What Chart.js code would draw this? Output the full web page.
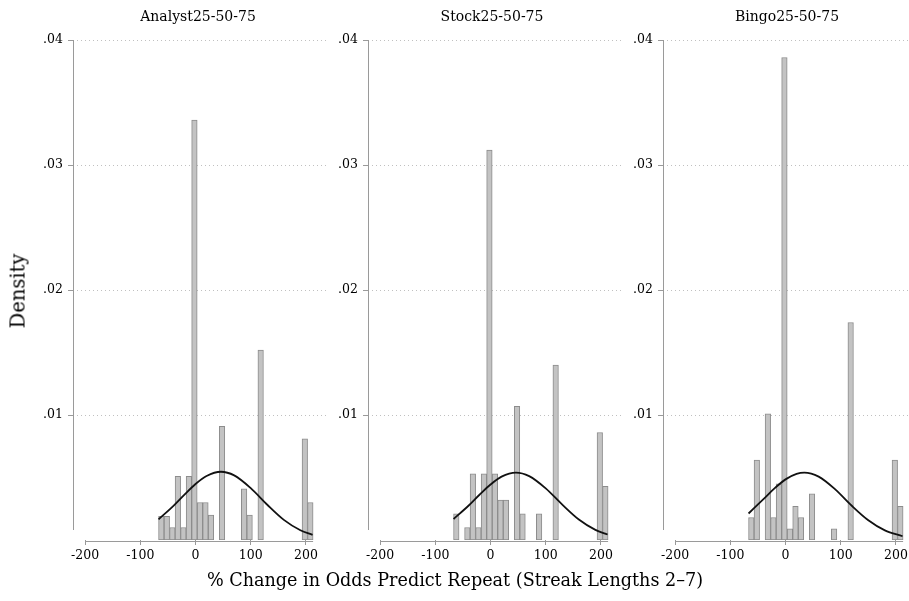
<!DOCTYPE html>
<html>
<head>
    <meta charset="UTF-8">
    <title>Odds Predict Repeat</title>
    <script src="https://cdn.jsdelivr.net/npm/chart.js@4.4.1/dist/chart.umd.min.js"></script>
    <style>
        body {
            margin: 0;
            width: 909px;
            height: 601px;
            overflow: hidden;
            background: white;
            font-family: "DejaVu Serif", serif;
            color: #000;
            position: relative;
        }
        canvas {
            position: absolute;
            top: 0;
        }
        .label {
            position: absolute;
            white-space: nowrap;
            transform: translate(-50%, -50%);
        }
        .panel-title {
            font-size: 14px;
            top: 16px;
        }
        .y-title {
            font-size: 19.5px;
            left: 18px;
            top: 291px;
            transform: translate(-50%, -50%) rotate(-90deg);
        }
        .x-title {
            font-size: 17.6px;
            left: 455px;
            top: 580px;
        }
    </style>
</head>
<body>
<canvas id="c1" width="330" height="575" style="left:0px"></canvas>
<canvas id="c2" width="330" height="575" style="left:295px"></canvas>
<canvas id="c3" width="330" height="575" style="left:590px"></canvas>

<div class="label panel-title" style="left:198px">Analyst25-50-75</div>
<div class="label panel-title" style="left:492px">Stock25-50-75</div>
<div class="label panel-title" style="left:787px">Bingo25-50-75</div>
<div class="label y-title">Density</div>
<div class="label x-title">% Change in Odds Predict Repeat (Streak Lengths 2–7)</div>

<script>
    // histogram bins (width 10), centres
    const binCenters = [-62, -52, -42, -32, -22, -12, -2, 8, 18, 28, 38, 48, 58, 68,
        78, 88, 98, 108, 118, 128, 138, 148, 158, 168, 178, 188, 198, 208];

    const analystDensity = [0.0019, 0.0019, 0.001, 0.0051, 0.001, 0.0051, 0.0336, 0.003, 0.003, 0.002,
        null, 0.0091, null, null, null, 0.0041, 0.002, null, 0.0152,
        null, null, null, null, null, null, null, 0.0081, 0.003];
    const stockDensity = [0.0021, null, 0.001, 0.0053, 0.001, 0.0053, 0.0312, 0.0053, 0.0032, 0.0032,
        null, 0.0107, 0.0021, null, null, 0.0021, null, null, 0.014,
        null, null, null, null, null, null, null, 0.0086, 0.0043];
    const bingoDensity = [0.0018, 0.0064, null, 0.0101, 0.0018, 0.0045, 0.0386, 0.0009, 0.0027, 0.0018,
        null, 0.0037, null, null, null, 0.0009, null, null, 0.0174,
        null, null, null, null, null, null, null, 0.0064, 0.0027];

    // normal curve overlays
    const analystCurveX = [-67, -40, -20, 0, 20, 46, 70, 100, 130, 160, 190, 212];
    const analystCurveY = [0.00165, 0.00273, 0.00363, 0.00448, 0.00512, 0.00546, 0.00517, 0.00415, 0.00282, 0.00161, 0.00078, 0.00041];
    const stockCurveX = [-67, -40, -20, 0, 20, 46, 70, 100, 130, 160, 190, 212];
    const stockCurveY = [0.00168, 0.00274, 0.00362, 0.00444, 0.00507, 0.00539, 0.00511, 0.00413, 0.00283, 0.00164, 0.00081, 0.00044];
    const bingoCurveX = [-67, -40, -20, 0, 20, 34, 60, 90, 120, 150, 180, 212];
    const bingoCurveY = [0.00212, 0.00327, 0.00413, 0.00485, 0.00529, 0.00539, 0.00507, 0.00405, 0.00274, 0.00158, 0.00077, 0.0003];

    const xTicks = [-200, -100, 0, 100, 200];
    const yTicks = [0.01, 0.02, 0.03, 0.04];

    const axisGray = '#9a9a9a';
    const tickFont = { family: 'DejaVu Serif', size: 12.5 };

    // Stata style axis lines, detached at the corner
    const stataAxes = {
        id: 'stataAxes',
        beforeDatasetsDraw(chart) {
            const { ctx, chartArea, scales: { x, y } } = chart;
            ctx.save();
            ctx.strokeStyle = axisGray;
            ctx.lineWidth = 1;
            ctx.beginPath();
            ctx.moveTo(Math.round(chartArea.left) + 0.5, y.getPixelForValue(yTicks[yTicks.length - 1]));
            ctx.lineTo(Math.round(chartArea.left) + 0.5, chartArea.bottom - 10);
            ctx.moveTo(x.getPixelForValue(xTicks[0]), Math.round(chartArea.bottom) + 1.5);
            ctx.lineTo(x.getPixelForValue(binCenters[binCenters.length - 1] + 5), Math.round(chartArea.bottom) + 1.5);
            ctx.stroke();
            ctx.restore();
        }
    };

    function makePanel(id, density, curveX, curveY) {
        const bars = binCenters.map((c, i) => ({ x: c, y: density[i] }));
        const curve = curveX.map((c, i) => ({ x: c, y: curveY[i] }));
        return new Chart(document.getElementById(id), {
            type: 'bar',
            data: {
                datasets: [{
                    type: 'line',
                    data: curve,
                    borderColor: '#111',
                    borderWidth: 1.8,
                    pointRadius: 0,
                    cubicInterpolationMode: 'monotone',
                    order: 0
                }, {
                    type: 'bar',
                    data: bars,
                    backgroundColor: '#c3c3c3',
                    borderColor: '#8c8c8c',
                    borderWidth: 1,
                    borderSkipped: false,
                    barPercentage: 1,
                    categoryPercentage: 1,
                    order: 1
                }]
            },
            options: {
                responsive: false,
                animation: false,
                layout: { padding: { top: 40, right: 2, left: 0, bottom: 0 } },
                plugins: {
                    legend: { display: false },
                    tooltip: { enabled: false }
                },
                scales: {
                    x: {
                        type: 'linear',
                        offset: false,
                        min: -222,
                        max: 240,
                        afterBuildTicks: s => { s.ticks = xTicks.map(v => ({ value: v })); },
                        afterFit: s => { s.height = 35; },
                        grid: {
                            offset: false,
                            drawOnChartArea: false,
                            tickLength: 5,
                            tickColor: axisGray
                        },
                        border: { display: false },
                        ticks: {
                            color: '#000',
                            font: tickFont,
                            padding: 3,
                            maxRotation: 0,
                            autoSkip: false
                        }
                    },
                    y: {
                        min: 0,
                        max: 0.04,
                        afterBuildTicks: s => { s.ticks = yTicks.map(v => ({ value: v })); },
                        afterFit: s => { s.width = 73; },
                        grid: {
                            color: '#c0c0c0',
                            lineWidth: 1,
                            tickLength: 5,
                            tickColor: axisGray
                        },
                        border: { display: false, dash: [1, 3] },
                        ticks: {
                            color: '#000',
                            font: tickFont,
                            padding: 5,
                            callback: v => v.toFixed(2).replace(/^0/, '')
                        }
                    }
                }
            },
            plugins: [stataAxes]
        });
    }

    makePanel('c1', analystDensity, analystCurveX, analystCurveY);
    makePanel('c2', stockDensity, stockCurveX, stockCurveY);
    makePanel('c3', bingoDensity, bingoCurveX, bingoCurveY);
</script>
</body>
</html>
